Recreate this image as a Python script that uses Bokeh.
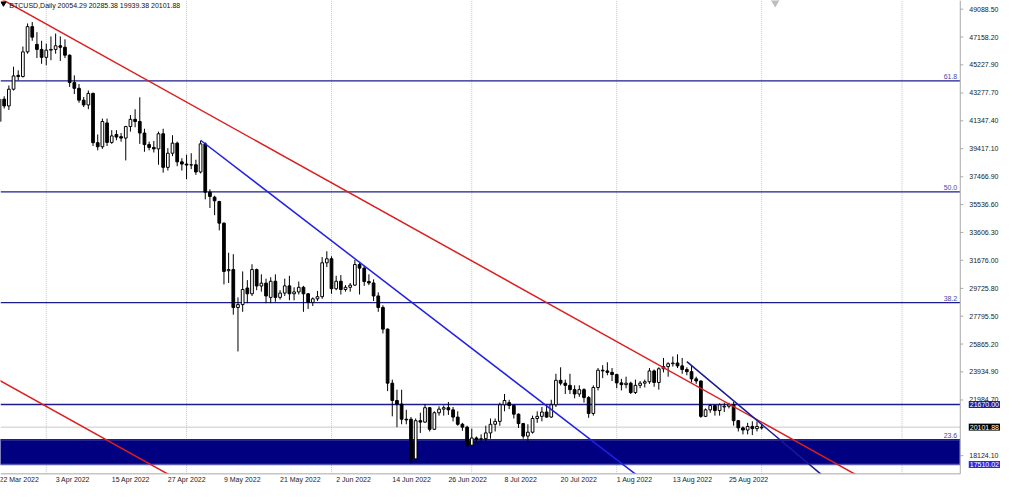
import pandas as pd
from bokeh.plotting import figure
from bokeh.models import Range1d, Label, ColumnDataSource
from bokeh.core.properties import value
from bokeh.embed import file_html
from bokeh.resources import INLINE

# ---------------- data ----------------
SYMBOL = "BTCUSD,Daily"
FIRST_DAY = "2022-03-22"
LAST_DAY = "2022-09-01"

OPEN = [
    41300, 42850, 42380, 43540, 44500, 44420, 46130, 47880, 46650, 46300,  # Mar
    45750, 46250, 46300, 46550, 46450, 45900, 44000, 43600, 42780, 42450,
    43250, 39830, 39550, 41200, 39850, 40400, 40250, 40150, 40950, 41450,
    41300, 40500, 39700, 39500, 39400, 40450, 38120, 39100, 39800, 38500,  # Apr
    38350, 38280, 38300, 37800, 39750, 36400, 36050, 35750, 34250, 30950,
    31030, 28400, 28600, 29750, 29350, 31030, 29890, 30090, 29100, 30220,
    29100, 29400, 29900, 29350, 29480, 29800, 29350, 28750, 29000, 29150, 31500,  # May
    31780, 29700, 30220, 29650, 29800, 29950, 31380, 31130, 30200, 30100,
    29200, 28400, 26900, 23150, 21950, 21700, 20650, 20650, 17900, 20550,
    20450, 21450, 19950, 21100, 21350, 21450, 21300, 20800, 20300, 20100,  # Jun
    18850, 19350, 19250, 19300, 19700, 20300, 20500, 21650, 21800, 21600,
    21000, 20350, 19480, 19750, 20700, 20850, 21150, 20800, 21650, 23350,
    23150, 23000, 22700, 22400, 22700, 22150, 21050, 22850, 24050, 24000, 23900,  # Jul
    23750, 23170, 23050, 23150, 22500, 23000, 23150, 23250, 24000, 23200,
    24150, 24300, 24500, 24550, 24350, 24100, 23950, 23450, 23300, 20850,
    21300, 21600, 21250, 21500, 21550, 21650, 20550, 20050, 19900, 20150, 20000,  # Aug
    20054.29,  # Sep
]
HIGH = [
    42950, 43050, 43800, 45100, 44850, 46500, 48100, 48200, 47500, 46900,
    46700, 47200, 47400, 47200, 47000, 45950, 44500, 43900, 43000, 43450,
    43300, 40400, 41500, 41500, 40700, 40700, 40500, 41000, 41750, 42150,
    42980, 40800, 39900, 39950, 40600, 40800, 39450, 40350, 39900, 38750,
    39000, 39100, 38650, 39950, 39850, 36600, 36150, 35800, 34300, 32200,
    32100, 29100, 30900, 30300, 31400, 31100, 30700, 30400, 30500, 30700,
    29600, 30400, 30600, 29800, 30200, 29900, 29400, 29100, 29550, 31900, 32300,
    31950, 30600, 30650, 29950, 30100, 31700, 31550, 31300, 30700, 30350,
    29450, 28550, 26950, 23400, 22700, 22700, 21300, 20800, 20700, 21100,
    21700, 21500, 21200, 21550, 21600, 21850, 21500, 21200, 20400, 20200,
    20000, 19450, 19600, 20200, 20700, 20700, 21800, 22400, 22000, 21650,
    21050, 20400, 20300, 20900, 21200, 21500, 21650, 22000, 23800, 24250,
    23400, 23800, 23000, 23000, 22800, 22250, 23000, 24200, 24400, 24600, 24200,
    23800, 23450, 23600, 23250, 23400, 23300, 23400, 24200, 24100, 24250,
    24900, 24600, 25000, 25150, 24900, 24250, 24400, 23600, 23350, 21400,
    21700, 21650, 21750, 21800, 21800, 21850, 20600, 20150, 20400, 20500, 20500,
    20285.38,
]
LOW = [
    40950, 42200, 42100, 43450, 44150, 44350, 46000, 46900, 45700, 45300,
    45200, 45550, 46000, 45500, 45700, 43700, 43200, 42600, 42300, 42150,
    39600, 39300, 39400, 39600, 39750, 40000, 39900, 38600, 40600, 40900,
    39750, 39200, 39300, 39150, 38300, 37750, 37900, 38900, 38200, 37900,
    37300, 38000, 37600, 37700, 35900, 35300, 34800, 33750, 30000, 30100,
    27900, 25350, 28100, 28700, 29200, 29600, 29500, 28700, 28700, 28800,
    28950, 29200, 28900, 28900, 29300, 28100, 28300, 28500, 28850, 29000, 31200,
    29350, 29600, 29300, 29500, 29500, 29900, 29300, 29900, 29950, 28850,
    28100, 26600, 22600, 20850, 20100, 20300, 20300, 17600, 17800, 19700,
    20400, 19800, 19900, 20900, 20900, 20950, 20500, 20200, 19850, 18700,
    18700, 19000, 19050, 19050, 19300, 19800, 20200, 21200, 21350, 20700,
    20050, 19300, 19000, 19650, 20400, 20500, 20750, 20750, 21500, 23000,
    22400, 22400, 22100, 22200, 21800, 20750, 20900, 22650, 23500, 23700, 23300,
    22800, 22650, 22800, 22400, 22400, 22800, 22850, 23100, 22900, 22700,
    23900, 23600, 24300, 24200, 23800, 23700, 23200, 23100, 20750, 20800,
    21100, 20900, 20900, 21150, 21400, 20200, 19800, 19600, 19600, 19550, 19800,
    19939.38,
]
CLOSE = [
    42850, 42380, 43540, 44460, 44420, 46130, 47880, 47150, 46300, 45750,
    46250, 46300, 46550, 46450, 45900, 44000, 43600, 42780, 42450, 43250,
    39830, 39550, 41300, 39850, 40300, 40220, 40150, 40950, 41450, 41300,
    40500, 39700, 39500, 39400, 40450, 38120, 39100, 39800, 38500, 38350,
    38280, 38300, 37800, 39750, 36400, 36100, 35800, 34250, 30900, 31030,
    28400, 28600, 29650, 29350, 31030, 29890, 30090, 29200, 30220, 29100,
    29400, 29900, 29350, 29480, 29800, 29350, 28750, 29000, 29150, 31500, 31780,
    29700, 30220, 29650, 29800, 29950, 31380, 31130, 30200, 30100, 29200,
    28400, 26900, 23150, 21950, 21700, 20650, 20600, 17900, 20550, 20450,
    21450, 19950, 21100, 21350, 21450, 21300, 20800, 20300, 20100, 18850,
    19350, 19250, 19300, 19700, 20300, 20500, 21650, 21950, 21600, 21000,
    20350, 19480, 19750, 20700, 20850, 21150, 20800, 21650, 23350, 23150,
    23000, 22700, 22400, 22700, 22150, 21050, 22850, 24050, 24000, 23900, 23750,
    23170, 23050, 23150, 22500, 23000, 23150, 23250, 24000, 23200, 24150,
    24300, 24500, 24550, 24350, 24100, 23950, 23450, 23300, 20850, 21300,
    21600, 21250, 21650, 21550, 21650, 20550, 20050, 19900, 20150, 20000, 20150,
    20101.88,
]

X_TICK_DATES = ["2022-03-22", "2022-04-03", "2022-04-15", "2022-04-27", "2022-05-09",
                "2022-05-21", "2022-06-02", "2022-06-14", "2022-06-26", "2022-07-08",
                "2022-07-20", "2022-08-01", "2022-08-13", "2022-08-25"]
MONTH_GRID = ["2022-04-01", "2022-05-01", "2022-06-01", "2022-07-01",
              "2022-08-01", "2022-09-01", "2022-10-01"]
Y_TICKS = [49088.50, 47158.20, 45227.90, 43277.70, 41347.40, 39417.10, 37466.90,
           35536.60, 33606.30, 31676.00, 29725.80, 27795.50, 25865.20, 23934.90,
           21984.70, 18124.10]

FIB_LEVELS = [44113.0, 36425.0, 28737.0, 19225.0]
FIB_LABELS = ["61.8", "50.0", "38.2", "23.6"]
HLINE_PRICE = 21670.00
ZONE_BOTTOM = 17510.02
ZONE_TOP = 19225.0
BID = 20101.88

# trend lines: (date, price) anchors
RED_MAIN = [("2022-03-21", 50046), ("2022-10-01", 15028)]
RED_LOW = [("2022-03-21", 23527), ("2022-06-01", 10531)]
BLUE_1 = [("2022-05-04", 40000), ("2022-08-10", 15603)]
BLUE_2 = [("2022-08-16", 24650), ("2022-09-15", 16482)]

# ---------------- layout helpers (reference-pixel geometry) ----------------
DAY = 86400000.0
PX_PER_DAY = 4.75          # reference pixels per day
PRICE_PER_PX = 67.14       # price units per reference pixel
REF_W, REF_H = 1024, 500


def ms(s):
    return pd.Timestamp(s).value / 1e6


X0 = ms(FIRST_DAY) + (1.0 / PX_PER_DAY) * DAY      # reference x = 0
X1 = X0 + REF_W / PX_PER_DAY * DAY


def rx(px):
    return X0 + px / PX_PER_DAY * DAY


def ry(py):
    return 49088.5 - (py - 9) * PRICE_PER_PX


Y1 = ry(0)
Y0 = ry(REF_H)
AXIS_X = rx(975)
FRAME_BOTTOM = ry(489)

FONT = "Liberation Sans"
FS = "7px"
PXD = (X1 - X0) / 1008.0   # data units per screen px (x)
PYD = (Y1 - Y0) / 484.0    # data units per screen px (y)

dates = pd.date_range(FIRST_DAY, LAST_DAY, freq="D")
xs = [d.value / 1e6 for d in dates]

p = figure(width=1008, height=484, x_range=Range1d(X0, X1), y_range=Range1d(Y0, Y1),
           output_backend="svg", toolbar_location=None,
           x_axis_location=None, y_axis_location=None, min_border=0)
p.xgrid.visible = False
p.ygrid.visible = False
p.outline_line_color = None
p.background_fill_color = "white"
p.border_fill_color = "white"

# month separators (dotted)
mg = [ms(d) for d in MONTH_GRID]
p.segment(x0=mg, x1=mg, y0=[FRAME_BOTTOM] * len(mg), y1=[Y1] * len(mg),
          line_color="#c4c4c4", line_width=1, line_dash="1 1")

# zone
p.quad(left=[X0 - 2 * DAY], right=[AXIS_X], bottom=[ZONE_BOTTOM], top=[ZONE_TOP],
       fill_color="#000080", line_color="#5a5ab4", line_width=1.5)

# bid line
p.segment(x0=[X0], x1=[AXIS_X], y0=[BID], y1=[BID], line_color="#c8c8c8", line_width=1)

# horizontal levels
hl = FIB_LEVELS + [HLINE_PRICE]
p.segment(x0=[X0] * len(hl), x1=[AXIS_X] * len(hl), y0=hl, y1=hl,
          line_color="#1c1c8c", line_width=1.3)
p.text(x=[AXIS_X - 3 * PXD] * len(FIB_LEVELS), y=[v + 1.5 * PYD for v in FIB_LEVELS],
       text=FIB_LABELS, text_align="right", text_baseline="bottom",
       text_font=value(FONT), text_font_size=FS, text_color="#4848a8")

# candles
up = [c >= o for o, c in zip(OPEN, CLOSE)]
src = ColumnDataSource(dict(
    x=xs, o=OPEN, h=HIGH, l=LOW, c=CLOSE,
    top=[max(o, c) for o, c in zip(OPEN, CLOSE)],
    bottom=[min(o, c) for o, c in zip(OPEN, CLOSE)],
    fill=["white" if u else "black" for u in up],
))
p.segment(x0="x", y0="h", x1="x", y1="l", source=src, line_color="black", line_width=1)
p.vbar(x="x", width=0.58 * DAY, top="top", bottom="bottom", source=src,
       fill_color="fill", line_color="black", line_width=1)

# trend lines
for pts, col in [(RED_MAIN, "#dc1e1e"), (RED_LOW, "#dc1e1e"), (BLUE_1, "#2020e8"), (BLUE_2, "#1a1a90")]:
    p.line([ms(d) for d, _ in pts], [v for _, v in pts], line_color=col, line_width=1.5)

# white strips under the axis areas (mask anything past the axes)
p.quad(left=[AXIS_X], right=[X1 + DAY], bottom=[Y0 - 1000], top=[Y1 + 1000],
       fill_color="white", line_color=None)
p.quad(left=[X0 - DAY], right=[X1 + DAY], bottom=[Y0 - 1000], top=[FRAME_BOTTOM],
       fill_color="white", line_color=None)

# axis lines
p.segment(x0=[AXIS_X, X0], x1=[AXIS_X, AXIS_X], y0=[FRAME_BOTTOM, FRAME_BOTTOM],
          y1=[Y1, FRAME_BOTTOM], line_color="#a8a8a8", line_width=1)

# price ticks + labels
p.segment(x0=[AXIS_X] * len(Y_TICKS), x1=[AXIS_X + 3 * PXD] * len(Y_TICKS),
          y0=Y_TICKS, y1=Y_TICKS, line_color="#a8a8a8", line_width=1)
p.text(x=[AXIS_X + 9 * PXD] * len(Y_TICKS), y=Y_TICKS, text=[f"{v:.2f}" for v in Y_TICKS],
       text_align="left", text_baseline="middle", text_font=value(FONT),
       text_font_size=FS, text_color="#222222")

# date labels
p.text(x=[ms(d) for d in X_TICK_DATES], y=[ry(494.5)] * len(X_TICK_DATES),
       text=[pd.Timestamp(d).strftime("%-d %b %Y") for d in X_TICK_DATES],
       text_align="left", text_baseline="middle", text_font=value(FONT),
       text_font_size=FS, text_color="#222222")

# price boxes on the axis
for price, bg in [(HLINE_PRICE, "#1e1ea0"), (BID, "#000000"), (ZONE_BOTTOM, "#2a2ae0")]:
    p.add_layout(Label(x=AXIS_X + 8.5 * PXD, y=price, text=f"{price:.2f}", text_align="left",
                       text_baseline="middle", text_font=FONT, text_font_size=FS,
                       text_color="white", background_fill_color=bg, padding=1))

# title
p.text(x=[rx(9)], y=[ry(1.5)],
       text=[f"{SYMBOL}  {OPEN[-1]:.2f} {HIGH[-1]:.2f} {LOW[-1]:.2f} {CLOSE[-1]:.2f}"],
       text_align="left", text_baseline="top", text_font=value(FONT), text_font_size=FS,
       text_color="#111111")
p.scatter(x=[rx(3)], y=[ry(3)], marker="inverted_triangle", size=5,
          fill_color="black", line_color="black")
p.scatter(x=[rx(787)], y=[ry(1)], marker="inverted_triangle", size=9,
          fill_color="#bdbdbd", line_color="#bdbdbd")

open("out.html", "w").write(file_html(p, INLINE))
